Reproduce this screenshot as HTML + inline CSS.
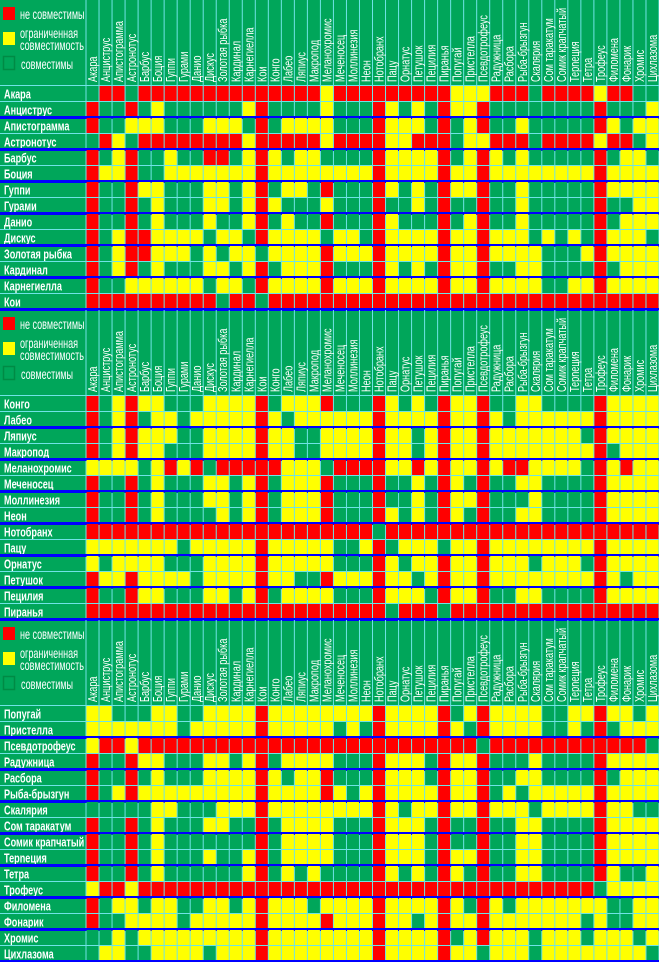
<!DOCTYPE html>
<html><head><meta charset="utf-8">
<style>
html,body{margin:0;padding:0;background:#00a65a;}
svg{display:block;}
text{font-family:"Liberation Sans","DejaVu Sans",sans-serif;fill:#fff;}
</style></head>
<body>
<svg id="chart" width="659" height="962" viewBox="0 0 659 962" xmlns="http://www.w3.org/2000/svg"></svg>
<script>
const species = ["Акара","Анциструс","Апистограмма","Астронотус","Барбус","Боция","Гуппи","Гурами","Данио","Дискус","Золотая рыбка","Кардинал","Карнегиелла","Кои","Конго","Лабео","Ляпиус","Макропод","Меланохромис","Меченосец","Моллинезия","Неон","Нотобранх","Пацу","Орнатус","Петушок","Пецилия","Пиранья","Попугай","Пристелла","Псевдотрофеус","Радужница","Расбора","Рыба-брызгун","Скалярия","Сом таракатум","Сомик крапчатый","Терneция","Тетра","Трофеус","Филомена","Фонарик","Хромис","Цихлазома"];
const blockSizes = [14,14,16];
const legendLabels = ["не совместимы","ограниченная","совместимость","совместимы"];
const compat = [
"GRRGRRRRRRRRRRRRRRY"+"RRRRRRRRRYYYRRRGRRRRYRRGG",
"RGGRGYGGGGGGYRGGGGY"+"GGGRYGYGRYYRGGGGGGGGRGGGY",
"RGGYYYGGGYYYGRGYYYY"+"GGGRYYYGRGYRGGYGGGGGRYGYY",
"GRYGRRRRRRRRYRRRRRY"+"RRRRYYRRRGYYRRRGRRRRYRRGY",
"RGYRGGYGGRRGYRYGYYG"+"GGGRYYYYRGYRYGYGGGGGRGYYG",
"RYYRGGYYYYYYYRYYYYY"+"YYYRYYYYRYYRYYYYYYYYRYYYY",
"RGGRYYGGGYYGYRGYYGR"+"GGGRYGYGRYYRGGYGGGGGRYYYY",
"RGGRGYGGGYYGYRYGGGY"+"GGGRGGYGRGGRGGYGGGGGRGGYY",
"RGGRGYGGGYGGYRGYGGR"+"GGGRYGGGRGYRGGYGGGGGRGYYY",
"RGYRRYYYYGYYGRYYYYG"+"YYGRYYYYRYYRYYYGYGYGRYYYG",
"RGYRRYYYGYGYYGYYYYR"+"YYYRYYYYRYYRYYYYGGGYRYYYY",
"RGYRGYGGGYYGYRGYYYR"+"GGGRYGYGRYYRGGYYGGGGRGYYY",
"RGGYYYYYYGYYGRYYYYR"+"YYYRYYYYRYYRYYYYGGYYRYYYY",
"RRRRRRRRRRGRRGRRRRR"+"RRRRRRRRRRRRRRRRRRRRRRRRR",
"RGYRYYGGGYYYYRGYYYR"+"GGGRYGYGRYYRGGYYGGGGRYYYY",
"RGYRGYYGYYYYYRYGYYY"+"YYYRYYYYRYYRYGYYYYYYRYYYY",
"RGYRYYYGGYYYYRYYGGY"+"YYYRYYGYRYYRYYYYYYYGRYYYY",
"RGYRYYGGGYYYYRYYGGY"+"YYYRYYGYRYYRYYYYYYYYRGYYY",
"YYYYGYRYRGRRRRRYYYG"+"RRRRYYRYRYYRYRRYYYYGRYRYY",
"RGGRGYGGGYYGYRGYYYR"+"GGGRGGYGRYGRGGYYGGGGRYYYY",
"RGGRGYGGGYYGYRGYYYR"+"GGGRGGYGRYYRGGGYGGGGRYYYY",
"RGGRGYGGGGYGYRGYYYR"+"GGGRYGYGRYGRGGYYGGGGRYYYY",
"RRRRRRRRRRRRRRRRRRR"+"RRRGRRRRRRRRRRRRRRRRRRRRR",
"YYYYYYYGYYYYYRYYYYY"+"GGYRGYYYGYYRYYYYYYYYRYYYY",
"YGYYYYGGGYYYYRYYYYY"+"GGGRYGYYRYYRYYYGYYYGRYYYY",
"RYYRYYYYGYYYYRYYGGR"+"YYYRYYGYRYYRYYYYYYYYRYGYY",
"RGGRYYGGGYYGYRGYYYY"+"GGGRYYYGRYYRGGYYGGGGRYYYY",
"RRRRRRRRRRRRRRRRRRR"+"RRRRGRRRGRRRRRRRRRRRRRRRR",
"YYGGGYYGGYYYYRYYYYY"+"YYYRYYYYRGYRYYYYGGYYRYYGY",
"YYYYYYYGYYYYYRYYYYY"+"GYGRYYYYRYGRYYYYGGYGRGYYY",
"YRRYRRRRRRRRRRRRRRR"+"RRRRRRRRRRRGRRRRRRRRRRRRG",
"RGGRYYGGGYYGYRGYYYY"+"GGGRYYYGRYYRGGGYGGGGRYYYY",
"RGGRGYGGGYYYYRYGYYR"+"GGGRYYYGRYYRGGYYGGGGRGYYY",
"RGYRYYYYYYYYYRYYYYR"+"YGYRYYYYRYYRGYGYYYYYRYYYY",
"GGGGGYYGGGYYYRYYYYY"+"YYYRYGYYRYYRYYYGYYYYRYYGG",
"RGGRGYGGGYYGGRGYYYY"+"GGGRYYYGRGGRGGYYGGGGRYYYY",
"RGGRGYGGGGGGGRGYYYY"+"GGGRYYYGRGGRGGYYGGGGRYYYY",
"RGGRGYGGGYGGYRGYYYY"+"GGGRYYYGRYYRGGYYGGGGRYYYY",
"RGGRGYGGGGGGYRGYGYG"+"GGGRYGYGRYGRGGYYGGGGRYGGY",
"YRRYRRRRRRRRRRRRRRR"+"RRRRRRRRRRRRRRRRRRRRGYYYY",
"RGYYGYYGGYYGYRYYYGY"+"YYYRYYYYRYGRYGYYYYYYYGGYY",
"RGGYYYYGYYYYYRYYYYR"+"YYYRYYGYRYYRYYYYYYYGYGGYY",
"GGYGYYYYYYYYYRYYYYY"+"YYYRYYYYRGYRYYYGYYYGYYYGY",
"GYYGGYYYYGYYYRYYYYY"+"YYYRYYYYRYYGYYYGYYYYYYYYG"
];

const NS="http://www.w3.org/2000/svg";
const svg=document.getElementById('chart');
const X0=86, W=573, NC=species.length, CW=W/NC, RH=16, HH=86;
const COL={R:"#ff0000",Y:"#ffff00",G:"#00a65a"};
const GRID="#6fe3e6", BLUE="#0000ff";
function xScale(c){return X0+CW*c;}
function mk(tag,attrs,parent){const e=document.createElementNS(NS,tag);for(const k in attrs)e.setAttribute(k,attrs[k]);(parent||svg).appendChild(e);return e;}

let blockTop=0, rowIndex=0;
blockSizes.forEach((n,b)=>{
  const g=mk('g',{});
  
  
  const rowsTop=blockTop+HH, bottom=rowsTop+n*RH;
  for(let c=0;c<=NC;c++){
    mk('rect',{x:xScale(c)-0.5,y:blockTop,width:1,height:HH,fill:GRID},g);
  }
  mk('rect',{x:0,y:rowsTop-1,width:659,height:1,fill:GRID},g);
  const lg=mk('g',{},g);
  
  
  const sw1=mk('rect',{x:3,y:blockTop+7,width:12,height:13,fill:COL.R},lg);
  
  
  const sw2=mk('rect',{x:3,y:blockTop+32,width:12,height:13,fill:COL.Y},lg);
  
  
  const sw3=mk('rect',{x:3.5,y:blockTop+56.5,width:11,height:13,fill:COL.G,stroke:"#008a45","stroke-width":1.5},lg);
  
  
  const ly=[blockTop+19,blockTop+38,blockTop+50,blockTop+69];
  legendLabels.forEach((t,i)=>{
    const tx=mk('text',{x:0,y:0,"font-size":13.5,transform:`translate(${i==3?21:20},${ly[i]}) scale(0.67,1)`},lg);
    tx.textContent=t;
    
    
  });
  species.forEach((s,c)=>{
    const cx=xScale(c)+CW/2+4.5;
    const t=mk('text',{x:0,y:0,"font-size":12.5,"text-anchor":"start",transform:`translate(${cx},${blockTop+82}) rotate(-90) scale(0.73,1)`},g);
    t.textContent=s;
    
    
  });
  mk('rect',{x:X0-0.5,y:rowsTop,width:659-X0+0.5,height:n*RH,fill:GRID},g);
  for(let r=0;r<n;r++){
    const ri=rowIndex+r, y=rowsTop+r*RH;
    const row=compat[ri];
    mk('rect',{x:0,y:y+RH-1,width:X0,height:1,fill:GRID},g);
    const lt=mk('text',{x:0,y:0,"font-size":13,"font-weight":"bold",transform:`translate(4,${y+12.5}) scale(0.7,1)`},g);
    lt.textContent=species[ri];
    
    
    for(let c=0;c<NC;c++){
      const v=row[c]||'G';
      const cell=mk('rect',{x:xScale(c)+0.5,y:y,width:CW-1,height:RH-1,fill:COL[v]},g);
      
      
    }
    if(r%2==1){
      const bl=mk('rect',{x:0,y:y+RH-2,width:659,height:3,fill:BLUE},g);
      
      
    }
  }
  rowIndex+=n;
  blockTop=bottom;
});
</script>
</body></html>
